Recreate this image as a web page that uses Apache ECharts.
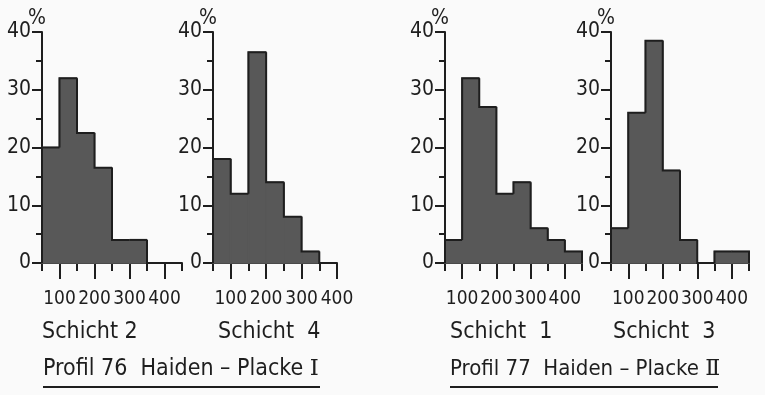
<!DOCTYPE html>
<html><head><meta charset="utf-8">
<script src="https://cdn.jsdelivr.net/npm/echarts@6/dist/echarts.min.js"></script>
<style>html,body{margin:0;padding:0;background:#fafafa}#c{width:765px;height:395px}</style>
</head><body><div id="c"></div>
<script>
// ---- data ----
const binStart = 50;
const binSize = 50;
const xTickLabels = [100, 200, 300, 400];
const yTickValues = [0, 10, 20, 30, 40];
const schicht2 = [20, 32, 22.5, 16.5, 4, 4, 0, 0];
const schicht4 = [18, 12, 36.5, 14, 8, 2, 0];
const schicht1 = [4, 32, 27, 12, 14, 6, 4, 2];
const schicht3 = [6, 26, 38.5, 16, 4, 0, 2, 2];
const panelNames = ['Schicht 2', 'Schicht  4', 'Schicht  1', 'Schicht  3'];
const profileTitles = ['Profil 76  Haiden – Placke ', 'Profil 77  Haiden – Placke '];
const profileNumerals = ['Ⅰ', 'Ⅱ'];
const yUnit = '%';

// ---- layout ----
const FONT = "'DejaVu Sans Condensed', 'DejaVu Sans', sans-serif";
const SERIF = "'DejaVu Serif', 'Liberation Serif', serif";
const INK = '#1e1e1e';
const FILL = '#585858';
const panels = [
  {vals: schicht2, left: 42, width: 140, xmax: 450, nameX: 42},
  {vals: schicht4, left: 213, width: 124, xmax: 400, nameX: 218},
  {vals: schicht1, left: 445, width: 137, xmax: 450, nameX: 450},
  {vals: schicht3, left: 611, width: 138, xmax: 450, nameX: 613}
];
const gridTop = 32, gridHeight = 231;

const grids = [], xAxes = [], yAxes = [], series = [];
panels.forEach((p, i) => {
  grids.push({left: p.left, top: gridTop, width: p.width, height: gridHeight, containLabel: false});
  xAxes.push({
    gridIndex: i, type: 'value', min: binStart, max: p.xmax, interval: binSize, position: 'bottom',
    axisLine: {show: true, lineStyle: {color: INK, width: 2}},
    axisTick: {show: true, length: 8, lineStyle: {color: INK, width: 2}},
    axisLabel: {show: true, customValues: xTickLabels, margin: 27, color: INK, fontFamily: FONT, fontSize: 19,
      hideOverlap: false, showMinLabel: true, showMaxLabel: true},
    splitLine: {show: false}
  });
  yAxes.push({
    gridIndex: i, type: 'value', min: yTickValues[0], max: yTickValues[yTickValues.length - 1], interval: 10,
    axisLine: {show: true, lineStyle: {color: INK, width: 2}},
    axisTick: {show: true, length: 10, lineStyle: {color: INK, width: 2}},
    minorTick: {show: true, splitNumber: 2, length: 6, lineStyle: {color: INK, width: 2}},
    axisLabel: {margin: 11, color: INK, fontFamily: FONT, fontSize: 21},
    splitLine: {show: false}, minorSplitLine: {show: false}
  });
  const data = p.vals.map((v, k) => [binStart + k * binSize, binStart + (k + 1) * binSize, v, k > 0 ? p.vals[k - 1] : 0, k === p.vals.length - 1 ? 1 : 0]);
  series.push({
    type: 'custom', xAxisIndex: i, yAxisIndex: i, data: data, clip: false, z: 3,
    renderItem: function (params, api) {
      const x0 = api.value(0), x1 = api.value(1), v = api.value(2), pv = api.value(3), last = api.value(4);
      const a = api.coord([x0, 0]), b = api.coord([x1, v]);
      const children = [];
      if (v > 0) {
        children.push({type: 'rect', shape: {x: a[0], y: b[1], width: b[0] - a[0], height: a[1] - b[1]},
          style: {fill: FILL, stroke: FILL, lineWidth: 1.5}});
      }
      const pts = [api.coord([x0, pv]), api.coord([x0, v]), api.coord([x1, v])];
      if (last) pts.push(api.coord([x1, 0]));
      children.push({type: 'polyline', z2: 2, shape: {points: pts}, style: {stroke: INK, lineWidth: 2, fill: null}});
      return {type: 'group', children: children};
    }
  });
});
// second x axes for long ticks under labelled values
panels.forEach((p, i) => {
  xAxes.push({
    gridIndex: i, type: 'value', min: binStart, max: p.xmax, interval: binSize, position: 'bottom',
    axisLine: {show: false},
    axisTick: {show: true, customValues: xTickLabels, length: 16, lineStyle: {color: INK, width: 2}},
    axisLabel: {show: false}, splitLine: {show: false}
  });
});

const graphics = [];
panels.forEach((p, i) => {
  graphics.push({type: 'text', x: p.nameX, y: 321, style: {text: panelNames[i], font: '23px ' + FONT, fill: INK}});
  graphics.push({type: 'text', x: p.left - 5, y: 8, style: {text: yUnit, font: '21px ' + FONT, fill: INK, textAlign: 'center'}});
});
[[43, 320, 23], [450, 718, 22]].forEach((r, j) => {
  graphics.push({type: 'text', x: r[0], y: 358, style: {
    text: '{a|' + profileTitles[j] + '}{b|' + profileNumerals[j] + '}',
    fill: INK,
    rich: {
      a: {fontFamily: FONT, fontSize: r[2], fill: INK, color: INK},
      b: {fontFamily: SERIF, fontSize: r[2], fill: INK, color: INK}
    }
  }});
  graphics.push({type: 'line', shape: {x1: r[0], y1: 387, x2: r[1], y2: 387}, style: {stroke: INK, lineWidth: 2}});
});

const chart = echarts.init(document.getElementById('c'), null, {renderer: 'canvas'});
chart.setOption({
  backgroundColor: '#fafafa',
  animation: false,
  grid: grids, xAxis: xAxes, yAxis: yAxes, series: series, graphic: graphics
});
</script></body></html>
